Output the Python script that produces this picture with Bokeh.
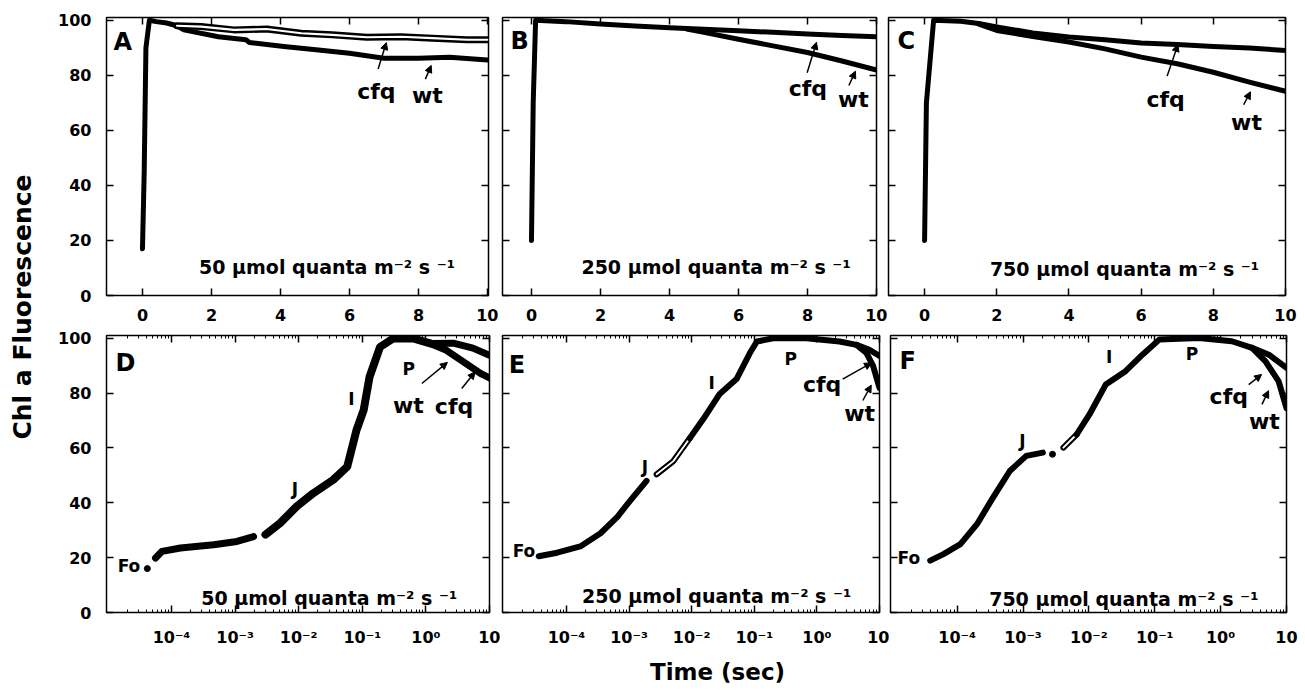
import math
from bokeh.plotting import figure
from bokeh.layouts import row, column
from bokeh.models import Range1d, FixedTicker, LinearAxis, LogAxis, Arrow, NormalHead
from bokeh.core.properties import value
from bokeh.embed import file_html
from bokeh.resources import INLINE

FONT = "DejaVu Sans"

# ---------------- ticks / texts ----------------
lin_ticks = [0, 2, 4, 6, 8, 10]
y_ticks = [0, 20, 40, 60, 80, 100]
log_ticks = [1e-4, 1e-3, 1e-2, 1e-1, 1.0, 10.0]
log_tick_labels = ["10⁻⁴", "10⁻³", "10⁻²", "10⁻¹", "10⁰", "10"]
log_minor = [m * 10.0 ** k for k in range(-5, 1) for m in range(2, 10)]

y_title = "Chl a Fluorescence"
x_title = "Time (sec)"
intensity_labels = ["50 µmol quanta m⁻² s ⁻¹", "250 µmol quanta m⁻² s ⁻¹", "750 µmol quanta m⁻² s ⁻¹"]
panel_letters = ["A", "B", "C", "D", "E", "F"]

# ---------------- data ----------------
# Panel A (50, linear time, s)
A_rise_t = [0.0, 0.05, 0.1, 0.2, 0.4, 0.7, 1.0]
A_rise_v = [17, 45, 90, 100, 99.5, 99, 98]
A_cfq_t = [1.0, 1.7, 2.65, 3.6, 4.6, 5.5, 6.5, 7.5, 8.4, 9.4, 10.0]
A_cfq_v = [98, 97.7, 96.5, 96.8, 95.3, 94.7, 93.8, 94.0, 93.5, 92.9, 92.9]
A_wt_t = [1.0, 1.2, 2.2, 3.0, 3.1, 4.1, 5.1, 6.0, 7.0, 8.0, 8.9, 10.0]
A_wt_v = [98, 96.5, 94.0, 92.9, 91.9, 90.5, 89.2, 88.0, 86.2, 86.2, 86.6, 85.6]

# Panel B (250)
B_rise_t = [0.0, 0.05, 0.12, 1.0, 2.0, 3.0, 4.0, 4.5]
B_rise_v = [20, 70, 100, 99.5, 98.6, 97.9, 97.3, 97.0]
B_cfq_t = [4.5, 5, 6, 7, 8, 9, 10]
B_cfq_v = [97.0, 96.7, 96.2, 95.6, 95.0, 94.5, 94.0]
B_wt_t = [4.5, 5, 6, 7, 8, 9, 10]
B_wt_v = [96.8, 95.6, 93.1, 90.7, 88.3, 85.2, 81.9]

# Panel C (750)
C_rise_t = [0.0, 0.05, 0.25, 1.0, 1.5]
C_rise_v = [20, 70, 100, 99.6, 98.8]
C_cfq_t = [1.5, 2, 3, 4, 5, 6, 7, 8, 9, 10]
C_cfq_v = [98.8, 97.6, 95.4, 93.9, 92.9, 91.7, 91.2, 90.5, 89.9, 89.0]
C_wt_t = [1.5, 2, 3, 4, 5, 6, 7, 8, 9, 10]
C_wt_v = [98.6, 96.3, 94.1, 92.1, 89.6, 86.6, 84.2, 81.1, 77.5, 74.2]

# Panel D (50, log time)
D_fo_t = [4.17e-5]
D_fo_v = [16]
D_t1 = [5.6e-5, 7.1e-5, 1.38e-4, 4.6e-4, 1.07e-3, 1.95e-3]
D_v1 = [19.9, 22.3, 23.5, 24.7, 25.9, 27.7]
D_t2 = [3.0e-3, 5.1e-3, 9.3e-3, 1.7e-2, 3.5e-2, 5.8e-2, 8.1e-2, 0.105, 0.13, 0.19, 0.31, 0.63, 1.17]
D_v2 = [28.4, 32.6, 38.7, 43.5, 48.4, 53.2, 66.5, 73.8, 85.9, 96.8, 100, 99.9, 98.1]
D_cfq_t = [1.17, 2.7, 5.5, 10.0]
D_cfq_v = [98.1, 98.2, 96.4, 93.8]
D_wt_t = [1.17, 2.1, 3.9, 7.2, 10.0]
D_wt_v = [98.1, 95.6, 91.4, 87.2, 85.5]

# Panel E (250, log time)
E_t1 = [3.6e-5, 7.1e-5, 1.66e-4, 3.5e-4, 6.5e-4, 1.05e-3, 1.9e-3]
E_v1 = [20.5, 21.8, 24.1, 28.9, 34.9, 40.9, 48.0]
E_t2 = [2.75e-3, 5.1e-3, 9.3e-3]
E_v2 = [50.4, 55.2, 63.5]
E_t3 = [9.3e-3, 1.55e-2, 2.8e-2, 5.2e-2, 8.5e-2, 0.11, 0.2, 0.68, 2.3, 4.3]
E_v3 = [63.5, 70.7, 79.7, 85.1, 94.6, 98.8, 100, 100, 98.8, 97.6]
E_cfq_t = [4.3, 6.9, 9.3, 10.0]
E_cfq_v = [97.6, 95.8, 94.0, 93.6]
E_wt_t = [4.3, 6.2, 7.9, 10.0]
E_wt_v = [97.6, 94.6, 89.9, 81.9]

# Panel F (750, log time)
F_t1 = [3.9e-5, 6.2e-5, 1.12e-4, 2.0e-4, 3.5e-4, 6.3e-4, 1.12e-3, 2.0e-3]
F_v1 = [18.9, 21.3, 24.9, 32.2, 41.9, 51.6, 57.1, 58.3]
F_dot_t = [2.8e-3]
F_dot_v = [57.7]
F_t2 = [4.1e-3, 6.5e-3]
F_v2 = [60.1, 64.9]
F_t3 = [6.5e-3, 1.02e-2, 1.8e-2, 3.6e-2, 6.5e-2, 0.117, 0.47, 1.48, 3.0]
F_v3 = [64.9, 72.2, 83.1, 88.0, 94.0, 99.5, 100.1, 98.9, 96.5]
F_cfq_t = [3.0, 5.4, 10.0]
F_cfq_v = [96.5, 94.0, 89.2]
F_wt_t = [3.0, 4.8, 7.6, 10.0]
F_wt_v = [96.5, 91.6, 84.3, 74.5]

# ---------------- annotation placement (data units of each panel) ----------------
ann = {
    "A": dict(letter=(-0.84, 92.2), inten=(5.35, 10.2),
              labels=[("cfq", 6.78, 74.0), ("wt", 8.26, 72.8)],
              arrows=[(6.83, 82.3, 7.07, 91.9), (8.2, 78.6, 8.37, 83.6)]),
    "B": dict(letter=(-0.61, 92.3), inten=(5.35, 10.3),
              labels=[("cfq", 8.01, 75.1), ("wt", 9.33, 71.1)],
              arrows=[(7.99, 80.9, 8.26, 92.0), (9.2, 76.3, 9.39, 81.5)]),
    "C": dict(letter=(-0.75, 92.5), inten=(5.54, 9.7),
              labels=[("cfq", 6.68, 71.2), ("wt", 8.92, 63.0)],
              arrows=[(6.72, 79.7, 7.02, 91.2), (8.84, 69.3, 9.03, 74.0)]),
    "D": dict(letter=(1.32e-5, 91.1), inten=(0.0302, 5.3),
              labels=[("cfq", 2.77, 75.1), ("wt", 0.53, 75.5)],
              small=[("Fo", 2.14e-5, 16.9), ("J", 8.7e-3, 45.1), ("I", 0.0676, 77.8), ("P", 0.537, 88.7)],
              arrows=[(0.863, 83.5, 2.18, 91.2), (3.66, 81.7, 5.92, 87.7)]),
    "E": dict(letter=(1.2e-5, 90.1), inten=(0.0251, 6.0),
              labels=[("cfq", 1.21, 83.2), ("wt", 4.81, 72.4)],
              small=[("Fo", 2.09e-5, 22.4), ("J", 1.79e-3, 53.0), ("I", 0.0209, 83.5), ("P", 0.383, 92.5)],
              arrows=[(2.58, 85.1, 7.46, 91.0), (5.42, 77.3, 7.38, 82.9)]),
    "F": dict(letter=(1.33e-5, 91.6), inten=(0.0339, 4.9),
              labels=[("cfq", 1.33, 78.9), ("wt", 4.62, 69.5)],
              small=[("Fo", 1.85e-5, 19.9), ("J", 9.77e-4, 62.6), ("I", 0.0204, 93.1), ("P", 0.367, 94.4)],
              arrows=[(2.67, 83.1, 4.19, 86.8), (4.24, 75.9, 5.35, 80.9)]),
}


def style_axis(ax, show_labels, standoff=0):
    ax.axis_line_color = None
    ax.major_tick_in = 7
    ax.major_tick_out = 0
    ax.major_tick_line_width = 1.5
    ax.major_tick_line_color = "black"
    ax.minor_tick_in = 3
    ax.minor_tick_out = 0
    ax.minor_tick_line_color = "black"
    ax.minor_tick_line_width = 1
    ax.major_label_text_font = FONT
    ax.major_label_text_font_style = "bold"
    if show_labels:
        ax.major_label_text_color = "black"
        ax.major_label_text_font_size = "16px"
    else:
        # tick marks only: labels are not drawn and take (almost) no room
        ax.major_label_text_color = None
        ax.major_label_text_font_size = "1px"
    ax.major_label_standoff = standoff


def make_panel(log, xr, lb, fw, rb, tb, fh, bb, ylabels, xstand):
    p = figure(width=lb + fw + rb, height=tb + fh + bb,
               x_range=Range1d(*xr), y_range=Range1d(0, 101),
               x_axis_type="log" if log else "linear",
               output_backend="svg", toolbar_location=None, title=None,
               min_border_left=lb, min_border_right=rb,
               min_border_top=tb, min_border_bottom=bb)
    p.grid.visible = False
    p.outline_line_color = "black"
    p.outline_line_width = 1.5
    p.background_fill_color = "white"
    p.border_fill_color = "white"
    xt = FixedTicker(ticks=log_ticks, minor_ticks=log_minor) if log else FixedTicker(ticks=lin_ticks)
    yt = FixedTicker(ticks=y_ticks)
    p.xaxis[0].ticker = xt
    p.yaxis[0].ticker = yt
    style_axis(p.xaxis[0], True, xstand)
    style_axis(p.yaxis[0], ylabels, 15)
    if log:
        p.xaxis[0].major_label_overrides = {t: s for t, s in zip(log_ticks, log_tick_labels)}
    top = (LogAxis if log else LinearAxis)(ticker=xt)
    right = LinearAxis(ticker=yt)
    style_axis(top, False)
    style_axis(right, False)
    p.add_layout(top, "above")
    p.add_layout(right, "right")
    return p


def solid(p, t, v, w):
    p.line(t, v, line_width=w, line_color="black", line_cap="round", line_join="round")


def hollow(p, t, v, w):
    solid(p, t, v, w)
    p.line(t, v, line_width=w * 0.3, line_color="white", line_cap="round", line_join="round")


def txt(p, x, y, s, size, align="center", baseline="middle", angle=0.0):
    p.text(x=[x], y=[y], text=[s], text_font=value(FONT), text_font_style="bold",
           text_font_size=size, text_align=align, text_baseline=baseline,
           text_color="black", angle=angle)


def arrow(p, x0, y0, x1, y1):
    p.add_layout(Arrow(end=NormalHead(size=7, fill_color="black", line_color="black", line_width=1),
                       x_start=x0, y_start=y0, x_end=x1, y_end=y1,
                       line_width=1.5, line_color="black"))


def annotate(p, key, inten_text):
    a = ann[key]
    txt(p, a["letter"][0], a["letter"][1], key, "24px", align="left")
    txt(p, a["inten"][0], a["inten"][1], inten_text, "19px", baseline="alphabetic")
    for s, x, y in a["labels"]:
        txt(p, x, y, s, "22px")
    for s, x, y in a.get("small", []):
        txt(p, x, y, s, "17px")
    for x0, y0, x1, y1 in a["arrows"]:
        arrow(p, x0, y0, x1, y1)


# ---------------- panels ----------------
# row 1: borders top 17 / bottom 33 ; row 2: top 7 / bottom 34
pA = make_panel(False, (-1.043, 10.03), 59, 382, 10, 17, 278, 33, True, 13)
solid(pA, A_wt_t, A_wt_v, 5)
solid(pA, A_rise_t, A_rise_v, 5)
hollow(pA, A_cfq_t, A_cfq_v, 7)
annotate(pA, "A", intensity_labels[0])

pB = make_panel(False, (-0.84, 10.0), 4, 374, 11, 17, 278, 33, False, 13)
solid(pB, B_rise_t, B_rise_v, 5)
solid(pB, B_cfq_t, B_cfq_v, 5)
solid(pB, B_wt_t, B_wt_v, 5)
annotate(pB, "B", intensity_labels[1])

pC = make_panel(False, (-1.0, 10.0), 1, 397, 13, 17, 278, 33, False, 13)
solid(pC, C_rise_t, C_rise_v, 5)
solid(pC, C_cfq_t, C_cfq_v, 5)
solid(pC, C_wt_t, C_wt_v, 5)
annotate(pC, "C", intensity_labels[2])

pD = make_panel(True, (9.5e-6, 10.0), 59, 383, 11, 7, 280, 34, True, 15)
pD.scatter(D_fo_t, D_fo_v, size=6, color="black")
solid(pD, D_t1, D_v1, 7)
solid(pD, D_t2, D_v2, 8)
solid(pD, D_cfq_t, D_cfq_v, 7)
solid(pD, D_wt_t, D_wt_v, 7)
annotate(pD, "D", intensity_labels[0])

pE = make_panel(True, (9.5e-6, 10.0), 2, 377, 10, 7, 280, 34, False, 15)
solid(pE, E_t1, E_v1, 6)
hollow(pE, E_t2, E_v2, 6)
solid(pE, E_t3, E_v3, 6)
solid(pE, E_cfq_t, E_cfq_v, 6)
solid(pE, E_wt_t, E_wt_v, 6)
annotate(pE, "E", intensity_labels[1])

pF = make_panel(True, (9.73e-6, 10.0), 1, 396, 12, 7, 280, 34, False, 15)
solid(pF, F_t1, F_v1, 6)
pF.scatter(F_dot_t, F_dot_v, size=6, color="black")
hollow(pF, F_t2, F_v2, 6)
solid(pF, F_t3, F_v3, 6)
solid(pF, F_cfq_t, F_cfq_v, 6)
solid(pF, F_wt_t, F_wt_v, 6)
annotate(pF, "F", intensity_labels[2])

# ---------------- shared axis titles ----------------
TOTAL_H = 693
YLAB_W = 47
ylab = figure(width=YLAB_W, height=TOTAL_H, x_range=Range1d(0, 1), y_range=Range1d(0, 1),
              x_axis_location=None, y_axis_location=None, output_backend="svg",
              toolbar_location=None, title=None, min_border=0)
ylab.grid.visible = False
ylab.outline_line_color = None
txt(ylab, 22 / YLAB_W, 1 - 306.5 / TOTAL_H, y_title, "25px", angle=math.pi / 2)

strip_w = 1251
strip_h = TOTAL_H - (17 + 278 + 33) - (7 + 280 + 34)
xlab = figure(width=strip_w, height=strip_h, x_range=Range1d(0, 1), y_range=Range1d(0, 1),
              x_axis_location=None, y_axis_location=None, output_backend="svg",
              toolbar_location=None, title=None, min_border=0)
xlab.grid.visible = False
xlab.outline_line_color = None
txt(xlab, (717 - YLAB_W) / strip_w, 1 - 22 / strip_h, x_title, "23px", baseline="middle")

layout = row(ylab, column(row(pA, pB, pC), row(pD, pE, pF), xlab))

open("out.html", "w").write(file_html(layout, INLINE))
